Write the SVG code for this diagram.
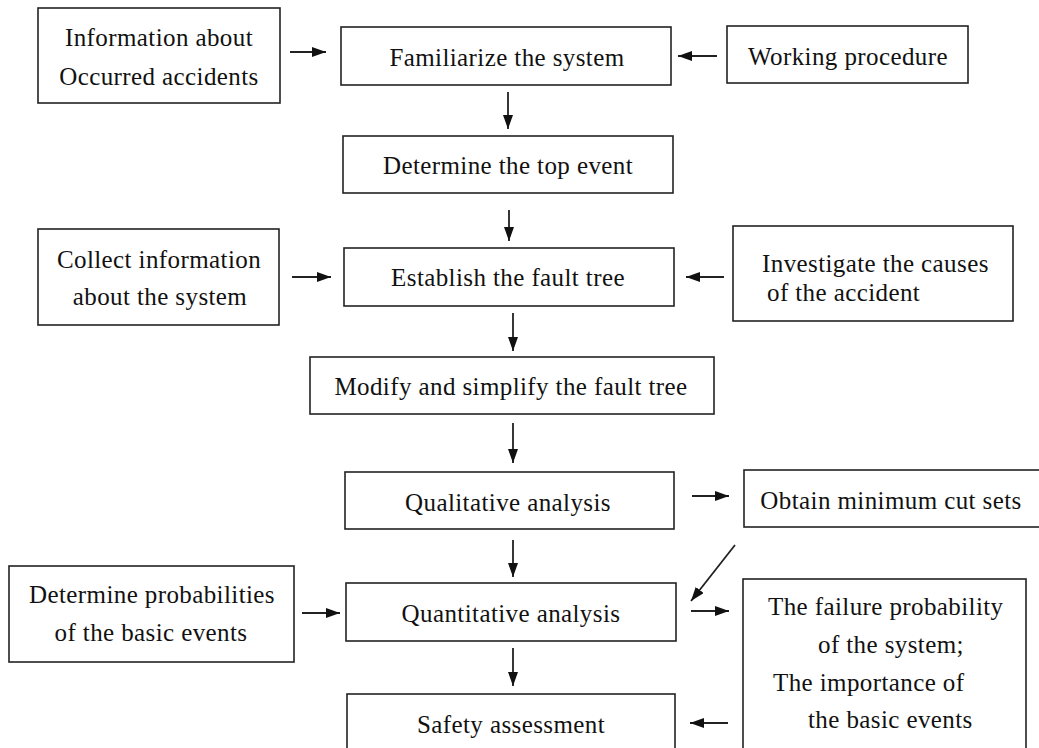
<svg xmlns="http://www.w3.org/2000/svg" width="1039" height="748" viewBox="0 0 1039 748">
<defs>
<marker id="ah" markerUnits="userSpaceOnUse" markerWidth="14" markerHeight="10" viewBox="0 0 14 10" refX="14" refY="5" orient="auto">
<path d="M0,0 L14,5 L0,10 Z" fill="#111"/>
</marker>
<style>
.box{fill:#fff;stroke:#222;stroke-width:1.6}
.t{font-family:'Liberation Serif','DejaVu Serif',serif;font-size:25px;letter-spacing:0.4px;fill:#111}
.c{text-anchor:middle}
.ln{stroke:#222;stroke-width:1.8;fill:none;marker-end:url(#ah)}
</style>
</defs>
<rect width="1039" height="748" fill="#fff"/>
<g id="info"><rect class="box" x="38" y="8" width="242" height="95"/><text class="t c" x="159" y="46">Information about</text><text class="t c" x="159" y="85">Occurred accidents</text></g>
<g id="familiarize"><rect class="box" x="341" y="27" width="330" height="58"/><text class="t c" x="507" y="66">Familiarize the system</text></g>
<g id="working"><rect class="box" x="727" y="26" width="241" height="57"/><text class="t c" x="848" y="65">Working procedure</text></g>
<g id="top"><rect class="box" x="343" y="136" width="330" height="57"/><text class="t c" x="508" y="174">Determine the top event</text></g>
<g id="collect"><rect class="box" x="38" y="229" width="241" height="96"/><text class="t c" x="159" y="268">Collect information</text><text class="t c" x="160" y="305">about the system</text></g>
<g id="establish"><rect class="box" x="344" y="248" width="330" height="58"/><text class="t c" x="508" y="286">Establish the fault tree</text></g>
<g id="investigate"><rect class="box" x="733" y="226" width="280" height="95"/><text class="t" x="762" y="272">Investigate the causes</text><text class="t" x="767" y="301">of the accident</text></g>
<g id="modify"><rect class="box" x="310" y="357" width="404" height="57"/><text class="t c" x="511" y="395">Modify and simplify the fault tree</text></g>
<g id="qualitative"><rect class="box" x="345" y="472" width="329" height="57"/><text class="t c" x="508" y="511">Qualitative analysis</text></g>
<g id="obtain"><rect class="box" x="744" y="470" width="301" height="57"/><text class="t c" x="891" y="509">Obtain minimum cut sets</text></g>
<g id="probabilities"><rect class="box" x="9" y="566" width="285" height="96"/><text class="t c" x="152" y="603">Determine probabilities</text><text class="t c" x="151" y="641">of the basic events</text></g>
<g id="quantitative"><rect class="box" x="346" y="583" width="330" height="58"/><text class="t c" x="511" y="622">Quantitative analysis</text></g>
<g id="failure"><rect class="box" x="743" y="579" width="283" height="185"/><text class="t" x="768" y="615">The failure probability</text><text class="t" x="818" y="653">of the system;</text><text class="t" x="773" y="691">The importance of</text><text class="t" x="808" y="728">the basic events</text></g>
<g id="safety"><rect class="box" x="347" y="694" width="328" height="70"/><text class="t c" x="511" y="733">Safety assessment</text></g>
<g id="connectors">
<line class="ln" x1="290" y1="52" x2="326" y2="52"/>
<line class="ln" x1="717" y1="56" x2="678" y2="56"/>
<line class="ln" x1="508" y1="92" x2="508" y2="129"/>
<line class="ln" x1="509" y1="210" x2="509" y2="241"/>
<line class="ln" x1="292" y1="277" x2="331" y2="277"/>
<line class="ln" x1="724" y1="277" x2="686" y2="277"/>
<line class="ln" x1="513" y1="313" x2="513" y2="351"/>
<line class="ln" x1="513" y1="423" x2="513" y2="463"/>
<line class="ln" x1="513" y1="540" x2="513" y2="577"/>
<line class="ln" x1="513" y1="648" x2="513" y2="686"/>
<line class="ln" x1="692" y1="496" x2="729" y2="496"/>
<line class="ln" x1="735" y1="545" x2="691" y2="601"/>
<line class="ln" x1="302" y1="613" x2="340" y2="613"/>
<line class="ln" x1="691" y1="611" x2="729" y2="611"/>
<line class="ln" x1="728" y1="723" x2="690" y2="723"/>
</g>
</svg>
